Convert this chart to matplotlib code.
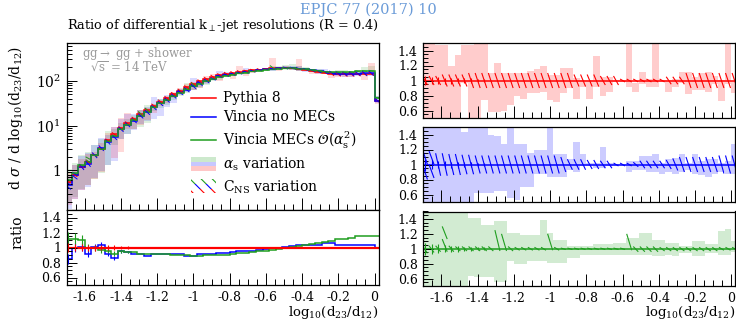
import numpy as np
import matplotlib
matplotlib.use("Agg")
import matplotlib.pyplot as plt
from matplotlib.ticker import MultipleLocator, FixedLocator, LogLocator, NullFormatter
from matplotlib.legend_handler import HandlerBase
from matplotlib.patches import Rectangle
from matplotlib.collections import LineCollection
from matplotlib.lines import Line2D

plt.rcParams['font.family'] = ['DejaVu Serif']
plt.rcParams['mathtext.fontset'] = 'dejavuserif'
plt.rcParams['axes.unicode_minus'] = False
plt.rcParams['hatch.linewidth'] = 0.8

# binning in log10(d23/d12): uniform bins, edges on -1.6 and 0
bin_width = 1.6 / 44
bin_edges = np.linspace(-1.6 - 3 * bin_width, bin_width, 49)
centers = 0.5 * (bin_edges[:-1] + bin_edges[1:])

# Pythia 8 central curve, d sigma / d log10(d23/d12)
pythia = [0.55, 0.77, 1.19, 1.54, 2.17, 3.07, 4.7, 6.4, 8.7, 11.2,
          14.2, 18.1, 22.3, 27.9, 34.4, 41.0, 50.6, 60.0, 71.5, 85.0,
          97.0, 110, 122, 135, 145, 150, 158, 165, 172, 178,
          185, 189, 192, 193, 190, 183, 176, 166, 158, 150,
          143, 140, 139, 140, 141, 143, 145, 36]

# Vincia / Pythia ratios
ratio_blue = [0.85, 1.00, 1.01, 0.92, 1.01, 1.03, 0.92, 0.86, 0.95, 0.94,
              0.91, 0.91, 0.89, 0.91, 0.91, 0.91, 0.91, 0.92, 0.89, 0.89,
              0.91, 0.91, 0.91, 0.93, 0.93, 0.94, 0.95, 0.95, 0.96, 0.97,
              0.98, 0.99, 1.00, 1.01, 1.02, 1.03, 1.03, 1.04, 1.04, 1.06,
              1.06, 1.04, 1.03, 1.03, 1.03, 1.03, 1.03, 1.00]
ratio_green = [1.12, 1.12, 1.10, 1.00, 0.99, 0.97, 0.95, 0.92, 0.95, 0.94,
               0.94, 0.92, 0.92, 0.92, 0.92, 0.91, 0.90, 0.90, 0.90, 0.89,
               0.89, 0.90, 0.90, 0.90, 0.90, 0.92, 0.93, 0.93, 0.94, 0.95,
               0.95, 0.97, 0.98, 0.99, 1.01, 1.02, 1.03, 1.05, 1.06, 1.07,
               1.09, 1.11, 1.12, 1.13, 1.15, 1.16, 1.16, 1.16]

# alpha_s variation envelopes, relative to each central curve
as_red_lo = [0.3, 0.3, 0.3, 0.3, 0.3, 0.3, 0.97, 0.3, 0.3, 0.74,
             0.58, 0.58, 0.60, 0.67, 0.79, 0.76, 0.83, 0.83, 0.85, 0.74,
             0.72, 0.83, 0.90, 0.75, 0.92, 0.75, 0.92, 0.79, 0.85, 0.98,
             0.98, 0.92, 0.85, 0.95, 0.92, 0.92, 0.98, 0.85, 0.92, 0.97,
             0.82, 0.88, 0.88, 0.85, 0.95, 0.73, 0.95, 0.84]
as_red_hi = [1.7, 1.7, 1.47, 1.47, 1.2, 1.34, 1.47, 1.47, 1.7, 1.7,
             1.10, 1.24, 1.10, 1.10, 1.10, 1.10, 1.13, 1.15, 1.20, 1.08,
             1.07, 1.17, 1.17, 1.03, 1.01, 1.01, 1.33, 1.05, 1.05, 1.01,
             1.01, 1.7, 0.97, 1.12, 1.02, 1.7, 1.01, 1.01, 1.02, 1.12,
             1.12, 1.05, 1.10, 1.12, 1.06, 1.01, 1.7, 1.00]
as_blue_lo = [0.3, 0.3, 0.3, 0.3, 0.3, 0.3, 0.3, 0.3, 0.62, 0.62,
              0.62, 0.65, 0.65, 0.55, 0.53, 0.70, 0.70, 0.88, 0.88, 0.84,
              0.84, 0.84, 0.93, 0.90, 0.98, 0.98, 0.95, 0.95, 0.98, 0.99,
              0.99, 0.90, 0.93, 0.93, 0.90, 0.90, 0.88, 0.90, 0.88, 0.90,
              0.93, 0.88, 0.86, 0.84, 0.88, 0.90, 0.88, 0.88]
as_blue_hi = [1.7, 1.7, 1.7, 1.7, 1.7, 1.7, 1.43, 1.7, 1.7, 1.7,
              1.40, 1.38, 1.28, 1.7, 1.28, 1.28, 1.16, 1.19, 1.19, 1.49,
              1.14, 1.14, 1.07, 1.30, 1.14, 1.02, 1.02, 1.23, 1.02, 1.01,
              1.01, 1.05, 1.05, 1.12, 1.12, 1.14, 1.02, 1.07, 1.09, 1.14,
              1.02, 1.14, 1.05, 1.07, 1.07, 1.02, 1.05, 1.28]
as_green_lo = [0.3, 0.3, 0.3, 0.3, 0.3, 0.3, 0.3, 0.64, 0.62, 0.62,
               0.62, 0.55, 0.55, 0.84, 0.79, 0.79, 0.84, 0.84, 0.84, 0.81,
               0.81, 0.81, 0.88, 0.88, 0.92, 0.92, 0.92, 0.92, 0.92, 0.92,
               0.92, 0.92, 0.92, 0.92, 0.92, 0.90, 0.90, 0.92, 0.90, 0.94,
               0.94, 0.90, 0.90, 0.94, 0.94, 0.92, 0.92, 0.96]
as_green_hi = [1.7, 1.7, 1.7, 1.7, 1.7, 1.7, 1.7, 1.41, 1.41, 1.32,
               1.32, 1.37, 1.37, 1.21, 1.21, 1.19, 1.19, 1.19, 1.39, 1.21,
               1.12, 1.12, 1.04, 1.04, 1.04, 1.04, 1.06, 1.06, 1.06, 1.08,
               1.08, 1.15, 1.15, 1.21, 1.21, 1.12, 1.12, 1.08, 1.08, 1.04,
               1.04, 1.10, 1.10, 1.06, 1.06, 1.24, 1.26, 1.10]

# C_NS variation (half widths, green is asymmetric)
cns_red = [0.06, 0.06, 0.06, 0.08, 0.08, 0.08, 0.08, 0.10, 0.10, 0.10,
           0.10, 0.10, 0.10, 0.10, 0.10, 0.10, 0.10, 0.10, 0.10, 0.10,
           0.10, 0.10, 0.10, 0.08, 0.08, 0.08, 0.08, 0.06, 0.06, 0.06,
           0.02, 0.02, 0.02, 0.02, 0.02, 0.02, 0.02, 0.05, 0.05, 0.05,
           0.10, 0.10, 0.10, 0.10, 0.10, 0.10, 0.10, 0.10]
cns_blue = [0.20, 0.18, 0.15, 0.15, 0.14, 0.14, 0.13, 0.13, 0.12, 0.12,
            0.12, 0.12, 0.12, 0.12, 0.12, 0.12, 0.12, 0.12, 0.12, 0.12,
            0.12, 0.10, 0.07, 0.07, 0.07, 0.06, 0.06, 0.05, 0.05, 0.02,
            0.02, 0.02, 0.03, 0.05, 0.05, 0.05, 0.05, 0.06, 0.08, 0.10,
            0.10, 0.10, 0.10, 0.10, 0.10, 0.12, 0.12, 0.12]
cns_green_up = [0.04, 0.04, 0.04, 0.30, 0.04, 0.03, 0.03, 0.03, 0.03, 0.03,
                0.03, 0.25, 0.20, 0.03, 0.02, 0.02, 0.02, 0.02, 0.02, 0.20,
                0.02, 0.01, 0.01, 0.01, 0.01, 0.01, 0.01, 0.01, 0.01, 0.01,
                0.01, 0.20, 0.03, 0.03, 0.03, 0.03, 0.02, 0.02, 0.02, 0.02,
                0.02, 0.02, 0.02, 0.02, 0.02, 0.02, 0.02, 0.02]
cns_green_dn = [0.06, 0.05, 0.04, 0.04, 0.04, 0.03, 0.03, 0.03, 0.03, 0.03,
                0.03, 0.03, 0.03, 0.03, 0.02, 0.02, 0.02, 0.02, 0.02, 0.02,
                0.02, 0.01, 0.01, 0.01, 0.01, 0.01, 0.01, 0.01, 0.01, 0.01,
                0.01, 0.02, 0.04, 0.04, 0.04, 0.04, 0.03, 0.03, 0.03, 0.03,
                0.03, 0.03, 0.03, 0.03, 0.03, 0.02, 0.02, 0.02]

# statistical errors of the first bins (relative)
stat_red = [0.06, 0.05, 0.05, 0.04, 0.04, 0.03, 0.03, 0.03, 0.02, 0.02]
stat_blue = [0.08, 0.06, 0.05, 0.05, 0.04, 0.04, 0.03, 0.03, 0.02, 0.02]
stat_green = [0.08, 0.07, 0.06, 0.05, 0.04, 0.04, 0.03, 0.03, 0.02, 0.02]

x_ticks = [-1.6, -1.4, -1.2, -1.0, -0.8, -0.6, -0.4, -0.2, 0.0]
x_tick_labels = ['-1.6', '-1.4', '-1.2', '-1', '-0.8', '-0.6', '-0.4', '-0.2', '0']
ratio_ticks = [0.6, 0.8, 1.0, 1.2, 1.4]
ratio_tick_labels = ['0.6', '0.8', '1', '1.2', '1.4']

RED = '#ff0000'
BLUE = '#0000ff'
GREEN = '#1f9e1f'

pythia = np.array(pythia)
ratio_blue = np.array(ratio_blue)
ratio_green = np.array(ratio_green)
ones = np.ones(len(pythia))

curves = [
    dict(nom=pythia, ratio=ones, color=RED, as_lo=as_red_lo, as_hi=as_red_hi,
         cns_lo=ones - np.array(cns_red), cns_hi=ones + np.array(cns_red), stat=stat_red),
    dict(nom=pythia * ratio_blue, ratio=ratio_blue, color=BLUE, as_lo=as_blue_lo, as_hi=as_blue_hi,
         cns_lo=ones - np.array(cns_blue), cns_hi=ones + np.array(cns_blue), stat=stat_blue),
    dict(nom=pythia * ratio_green, ratio=ratio_green, color=GREEN, as_lo=as_green_lo, as_hi=as_green_hi,
         cns_lo=ones - np.array(cns_green_dn), cns_hi=ones + np.array(cns_green_up), stat=stat_green),
]


def cns_segments(lo, hi, scale):
    # one "\" stroke per bin (more if the band is tall), like a coarse hatch
    segs = []
    for i in range(len(lo)):
        x0 = bin_edges[i] + 0.12 * bin_width
        x1 = bin_edges[i + 1] - 0.12 * bin_width
        n = max(1, int(round((hi[i] - lo[i]) / 0.2)))
        step = (hi[i] - lo[i]) / n
        for k in range(n):
            top = hi[i] - k * step
            segs.append([(x0, top * scale[i]), (x1, (top - step) * scale[i])])
    return segs


class BandStack(HandlerBase):
    def __init__(self, colors, hatched=False):
        super().__init__()
        self.colors = colors
        self.hatched = hatched

    def create_artists(self, legend, orig_handle, xdescent, ydescent,
                       width, height, fontsize, trans):
        arts = []
        h = height * 1.4 / len(self.colors)
        top = -ydescent + height * 1.2
        for i, c in enumerate(self.colors):
            y0 = top - (i + 1) * h
            if self.hatched:
                r = Rectangle((-xdescent, y0), width, h, facecolor='none',
                              edgecolor=c, hatch='\\\\\\', lw=0, transform=trans)
            else:
                r = Rectangle((-xdescent, y0), width, h, facecolor=c,
                              alpha=0.22, edgecolor='none', transform=trans)
            arts.append(r)
        return arts


W, H = 736, 324


def rect(x0, y0, x1, y1):
    return [x0 / W, 1 - y1 / H, (x1 - x0) / W, (y1 - y0) / H]


def style(ax, ratio=True, xlabels=False):
    ax.set_xlim(-1.70, 0.022)
    ax.xaxis.set_major_locator(FixedLocator(x_ticks))
    ax.xaxis.set_minor_locator(MultipleLocator(0.05))
    ax.tick_params(which='both', direction='in', top=False, right=False, labelsize=9, pad=4)
    ax.tick_params(axis='x', which='major', length=9, width=0.7)
    ax.tick_params(axis='x', which='minor', length=4.3, width=0.7)
    ax.tick_params(axis='y', which='major', length=7, width=0.7)
    ax.tick_params(axis='y', which='minor', length=3.5, width=0.7)
    for sp in ax.spines.values():
        sp.set_linewidth(0.9)
    if ratio:
        ax.set_ylim(0.5, 1.5)
        ax.yaxis.set_major_locator(FixedLocator(ratio_ticks))
        ax.set_yticklabels(ratio_tick_labels)
        ax.yaxis.set_minor_locator(MultipleLocator(0.05))
    if xlabels:
        ax.set_xticklabels(x_tick_labels)
        ax.set_xlabel(r'log$_{10}$(d$_{23}$/d$_{12}$)', fontsize=9.5, loc='right')
    else:
        ax.tick_params(labelbottom=False)


fig = plt.figure(figsize=(7.36, 3.24), dpi=100)
ax_main = fig.add_axes(rect(66.7, 43, 378.5, 210))
ax_rat = fig.add_axes(rect(66.7, 210, 378.5, 285))
ax_r = [fig.add_axes(rect(423.3, 43, 735.3, 118)),
        fig.add_axes(rect(423.3, 127, 735.3, 202)),
        fig.add_axes(rect(423.3, 211.5, 735.3, 286))]

# main panel
for c in curves[::-1]:
    nom = c['nom']
    ax_main.stairs(nom * np.array(c['as_hi']), bin_edges, baseline=nom * np.array(c['as_lo']),
                   fill=True, color=c['color'], alpha=0.15, lw=0)
for c in curves:
    lc = LineCollection(cns_segments(c['cns_lo'], c['cns_hi'], c['nom']),
                        colors=c['color'], linewidths=0.7)
    ax_main.add_collection(lc)
for c in curves:
    ax_main.stairs(c['nom'], bin_edges, color=c['color'], lw=1.1)

ax_main.set_yscale('log')
ax_main.set_ylim(0.13, 700)
style(ax_main, ratio=False)
ax_main.set_yticks([1, 10, 100])
ax_main.set_yticklabels(['1', r'$10^1$', r'$10^2$'], fontsize=10)
ax_main.yaxis.set_minor_locator(LogLocator(base=10, subs=np.arange(2, 10)))
ax_main.yaxis.set_minor_formatter(NullFormatter())
ax_main.set_ylabel(r'd $\sigma$ / d log$_{10}$(d$_{23}$/d$_{12}$)', fontsize=10)
ax_main.yaxis.set_label_coords(-0.135, 0.55)

ax_main.text(0.05, 0.94, r'gg$\rightarrow$ gg + shower', transform=ax_main.transAxes,
             color='#999999', fontsize=8.5, va='center')
ax_main.text(0.075, 0.85, r'$\sqrt{\rm s}$ = 14 TeV', transform=ax_main.transAxes,
             color='#999999', fontsize=8.5, va='center')

as_handle = Rectangle((0, 0), 1, 1)
cns_handle = Rectangle((0, 0), 1, 1)
handles = [Line2D([], [], color=RED, lw=1.1),
           Line2D([], [], color=BLUE, lw=1.1),
           Line2D([], [], color=GREEN, lw=1.1),
           as_handle, cns_handle]
labels = ['Pythia 8', 'Vincia no MECs', r'Vincia MECs $\mathcal{O}(\alpha_{\rm s}^2)$',
          r'$\alpha_{\rm s}$ variation', r'C$_{\rm NS}$ variation']
ax_main.legend(handles, labels, loc='upper left', bbox_to_anchor=(0.40, 0.71),
               frameon=False, fontsize=10, handlelength=1.8, handletextpad=0.45,
               labelspacing=0.36, borderpad=0, borderaxespad=0,
               handler_map={as_handle: BandStack([GREEN, BLUE, RED]),
                            cns_handle: BandStack([GREEN, BLUE, RED], hatched=True)})

# ratio panel
for c in [curves[1], curves[2], curves[0]]:
    lw = 1.6 if c['color'] == RED else 1.1
    ax_rat.stairs(c['ratio'], bin_edges, color=c['color'], lw=lw)
    n = len(c['stat'])
    ax_rat.errorbar(centers[:n], c['ratio'][:n], yerr=c['ratio'][:n] * np.array(c['stat']),
                    fmt='none', ecolor=c['color'], elinewidth=0.8)
style(ax_rat, ratio=True, xlabels=True)
ax_rat.set_ylabel('ratio', fontsize=10)
ax_rat.yaxis.set_label_coords(-0.135, 0.7)
ax_rat.xaxis.set_label_coords(1.0, -0.25)

# right-hand panels: variations of each generator
for ax, c in zip(ax_r, curves):
    ax.stairs(c['as_hi'], bin_edges, baseline=c['as_lo'], fill=True,
              color=c['color'], alpha=0.2, lw=0)
    lc = LineCollection(cns_segments(c['cns_lo'], c['cns_hi'], ones),
                        colors=c['color'], linewidths=0.8)
    ax.add_collection(lc)
    ax.stairs(ones, bin_edges, color=c['color'], lw=1.1)
    n = len(c['stat'])
    ax.errorbar(centers[:n], ones[:n], yerr=c['stat'], fmt='none',
                ecolor=c['color'], elinewidth=0.8)
    style(ax, ratio=True, xlabels=(ax is ax_r[2]))
ax_r[2].xaxis.set_label_coords(1.0, -0.24)

fig.text(66.7 / W, 1 - 25 / H, r'Ratio of differential k$_\perp$-jet resolutions (R = 0.4)',
         fontsize=9.3, ha='left', va='center')
fig.text(0.5, 1 - 10 / H, 'EPJC 77 (2017) 10', fontsize=10.5, ha='center', va='center',
         color='#6a9bd8')

fig.savefig('out.png', dpi=100)
